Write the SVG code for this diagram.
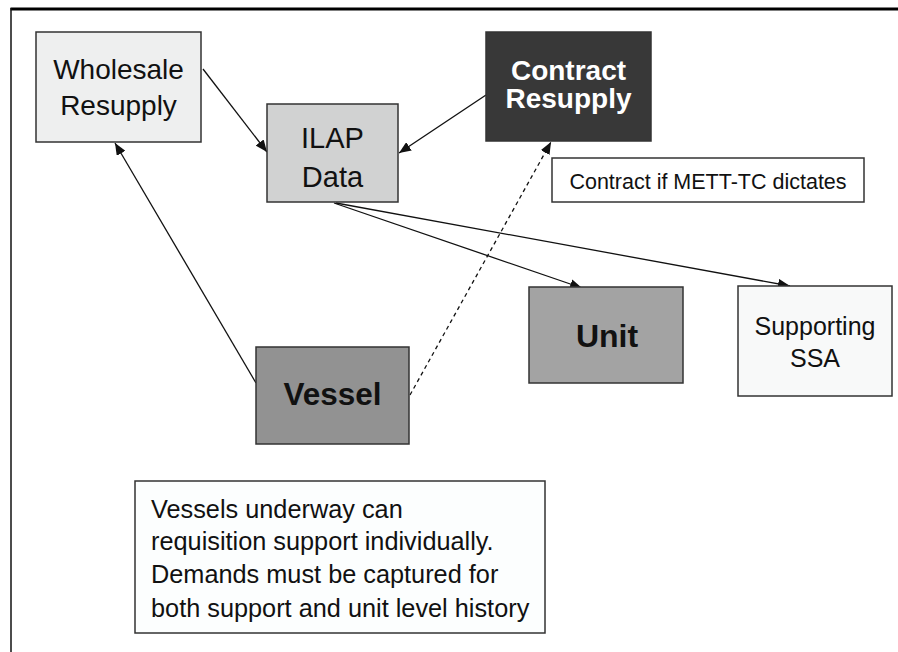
<svg xmlns="http://www.w3.org/2000/svg" width="898" height="652" viewBox="0 0 898 652">
  <style>
    .box { stroke: #333; stroke-width: 1.5; }
    .t { font-family: "Liberation Sans", Arial, sans-serif; text-anchor: middle; fill: #111; }
    .l { text-anchor: start; }
    .b { font-weight: bold; }
    .w { fill: #ffffff; }
    .edge { stroke: #111; stroke-width: 1.3; fill: none; marker-end: url(#arrow); }
    .dash { stroke-dasharray: 4 3.5; }
  </style>
  <defs>
    <marker id="arrow" viewBox="0 0 12 10" refX="12" refY="5" markerWidth="12" markerHeight="10" markerUnits="userSpaceOnUse" orient="auto">
      <path d="M0,0 L12,5 L0,10 z" fill="#111"/>
    </marker>
  </defs>

  <rect width="898" height="652" fill="#ffffff"/>
  <!-- frame -->
  <line x1="10.5" y1="9" x2="898" y2="9" stroke="#000" stroke-width="3"/>
  <line x1="11" y1="8" x2="11" y2="652" stroke="#111" stroke-width="1.5"/>

  <g id="connectors">
    <line class="edge" x1="203" y1="69" x2="267" y2="152"/>
    <line class="edge" x1="486" y1="95" x2="399" y2="153"/>
    <line class="edge" x1="256" y1="383" x2="115" y2="143"/>
    <line class="edge dash" x1="410" y1="395" x2="551" y2="142"/>
    <line class="edge" x1="334" y1="203" x2="582" y2="288"/>
    <line class="edge" x1="336" y1="203" x2="790" y2="286"/>
  </g>

  <g id="wholesale">
    <rect class="box" x="36" y="32" width="165" height="110" fill="#eeefef"/>
    <text class="t" x="118.5" y="79" font-size="28">Wholesale</text>
    <text class="t" x="118.5" y="115" font-size="28">Resupply</text>
  </g>

  <g id="ilap">
    <rect class="box" x="267" y="104" width="131" height="98" fill="#d1d2d2"/>
    <text class="t" x="332.5" y="148" font-size="29">ILAP</text>
    <text class="t" x="332.5" y="187" font-size="29">Data</text>
  </g>

  <g id="contract">
    <rect class="box" x="486" y="32" width="165" height="109" fill="#383838"/>
    <text class="t b w" x="568.5" y="80" font-size="28">Contract</text>
    <text class="t b w" x="568.5" y="108" font-size="28">Resupply</text>
  </g>

  <g id="contract-note">
    <rect class="box" x="552" y="158" width="312" height="44" fill="#ffffff"/>
    <text class="t" x="708" y="189" font-size="21.5">Contract if METT-TC dictates</text>
  </g>

  <g id="unit">
    <rect class="box" x="529" y="287" width="154" height="96" fill="#a3a3a3"/>
    <text class="t b" x="607" y="347" font-size="32">Unit</text>
  </g>

  <g id="ssa">
    <rect class="box" x="738" y="286" width="154" height="110" fill="#f8f9f9"/>
    <text class="t" x="815" y="335" font-size="25">Supporting</text>
    <text class="t" x="815" y="367" font-size="25">SSA</text>
  </g>

  <g id="vessel">
    <rect class="box" x="256" y="347" width="153" height="97" fill="#929292"/>
    <text class="t b" x="332.5" y="405" font-size="31.5">Vessel</text>
  </g>

  <g id="vessel-note">
    <rect class="box" x="135" y="481" width="410" height="152" fill="#fcfefe"/>
    <text class="t l" x="151" y="518" font-size="25.3">Vessels underway can</text>
    <text class="t l" x="151" y="550" font-size="25.3">requisition support individually.</text>
    <text class="t l" x="151" y="583" font-size="25.3">Demands must be captured for</text>
    <text class="t l" x="151" y="617" font-size="25.3">both support and unit level history</text>
  </g>
</svg>
